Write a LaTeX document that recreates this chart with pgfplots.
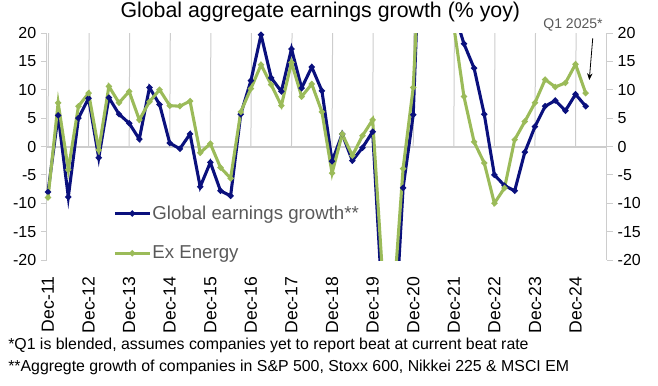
\documentclass[border=0pt]{standalone}
\usepackage{fontspec}
\setmainfont{Liberation Sans}
\usepackage{pgfplots}
\pgfplotsset{compat=1.18}
\usepackage{pgfplotstable}
\usetikzlibrary{arrows.meta}
\definecolor{navy}{RGB}{10,16,125}
\definecolor{olive}{RGB}{155,187,89}
\definecolor{txtgray}{RGB}{89,89,89}
\definecolor{axgray}{RGB}{205,205,205}

\pgfplotstableread{
i blue green
0 -8.0 -9.0
1 5.5 7.7
2 -8.9 -4.1
3 5.0 7.1
4 8.5 9.4
5 -2.0 -0.6
6 8.6 10.6
7 5.7 7.7
8 4.1 9.7
9 1.3 4.7
10 10.4 7.9
11 7.4 10.0
12 0.6 7.2
13 -0.4 7.1
14 2.2 8.0
15 -7.1 -1.1
16 -2.8 0.5
17 -7.8 -3.7
18 -8.7 -5.6
19 5.7 6.1
20 11.6 10.2
21 19.7 14.4
22 12.1 10.9
23 9.7 7.2
24 17.2 14.8
25 10.3 8.8
26 14.0 11.0
27 9.8 6.1
28 -2.6 -4.7
29 2.2 2.2
30 -2.5 -1.6
31 -0.2 1.9
32 2.6 4.7
33 -29.0 -23.4
34 -39.0 -28.7
35 -7.3 -3.9
36 5.6 10.4
37 53.0 47.0
38 100.0 95.0
39 50.0 45.0
40 23.9 21.2
41 18.1 8.8
42 13.8 0.8
43 5.7 -2.9
44 -5.0 -10.0
45 -6.9 -7.3
46 -7.8 1.2
47 -1.0 4.4
48 3.5 7.7
49 7.1 11.8
50 8.1 10.5
51 6.3 11.2
52 9.2 14.5
53 7.1 9.4
}\datatable

\begin{document}
\begin{tikzpicture}
\useasboundingbox (-35.25pt,-94.5pt) rectangle (458.25pt,195pt);
\begin{axis}[
  at={(0,0)}, anchor=south west,
  scale only axis, width=420pt, height=170.25pt,
  xmin=-0.1, xmax=55.1, ymin=-20, ymax=20,
  axis y line*=left, axis x line*=bottom,
  x axis line style={draw=none},
  y axis line style={draw=axgray, line width=0.75pt},
  xtick={0,4,...,52},
  xticklabels={Dec-11,Dec-12,Dec-13,Dec-14,Dec-15,Dec-16,Dec-17,Dec-18,Dec-19,Dec-20,Dec-21,Dec-22,Dec-23,Dec-24},
  major x tick style={draw=none},
  ytick={-20,-15,...,20},
  tick align=outside,
  major y tick style={draw=axgray, line width=0.75pt},
  major tick length=4.5pt,
  xticklabel shift=4.5pt,
  xticklabel style={rotate=90, anchor=east, font=\fontsize{13.2}{15}\selectfont},
  yticklabel style={font=\fontsize{12}{14}\selectfont},
  /pgf/number format/assume math mode=true,
  legend style={at={(0.118,0.118)}, anchor=west, draw=none, fill=none,
    font=\fontsize{14}{16}\selectfont, text=txtgray, inner sep=0pt, row sep=16.5pt,
    nodes={inner sep=1pt}},
  legend cell align=left,
  legend image code/.code={\draw[mark repeat=2, mark phase=2, #1] plot coordinates {(0pt,0pt) (13pt,0pt) (26pt,0pt)};},
]
\draw[axgray, line width=1.5pt] (axis cs:-0.1,0) -- (axis cs:55.1,0);
\pgfplotsinvokeforeach{0,4,...,52}{\draw[axgray, line width=0.75pt] (axis cs:#1,0) -- ++(0,-4pt);}
\addplot[navy, line width=2.3pt, mark=*, mark size=0.9pt] table[x=i,y=blue]{\datatable};
\addplot[olive, line width=2.3pt, mark=*, mark size=0.9pt] table[x=i,y=green]{\datatable};
\legend{Global earnings growth**, Ex Energy}
\end{axis}
\begin{axis}[
  at={(0,0)}, anchor=south west,
  scale only axis, width=420pt, height=170.25pt,
  xmin=-0.1, xmax=55.1, ymin=-20, ymax=20,
  axis y line*=right, axis x line=none,
  y axis line style={draw=axgray, line width=0.75pt},
  ytick={-20,-15,...,20},
  tick align=outside,
  major y tick style={draw=axgray, line width=0.75pt},
  major tick length=4.5pt,
  yticklabel style={font=\fontsize{12}{14}\selectfont},
  /pgf/number format/assume math mode=true,
]
\addplot[draw=none] coordinates {(0,0)};
\end{axis}
\node[font=\fontsize{16}{19}\selectfont] at (205pt,186pt) {Global aggregate earnings growth (\% yoy)};
\node[font=\fontsize{10.5}{12}\selectfont, text=txtgray] at (394.5pt,176.25pt) {Q1 2025*};
\draw[-{Stealth[length=5pt,width=4pt]}, line width=0.6pt] (409.3pt,166.3pt) -- (406.7pt,135pt);
\node[anchor=west, font=\fontsize{11.9}{13}\selectfont, inner sep=0pt] at (-29.25pt,-64pt) {*Q1 is blended, assumes companies yet to report beat at current beat rate};
\node[anchor=west, font=\fontsize{11.9}{13}\selectfont, inner sep=0pt] at (-29.25pt,-80.5pt) {**Aggregte growth of companies in S\&P 500, Stoxx 600, Nikkei 225 \& MSCI EM};
\end{tikzpicture}
\end{document}
